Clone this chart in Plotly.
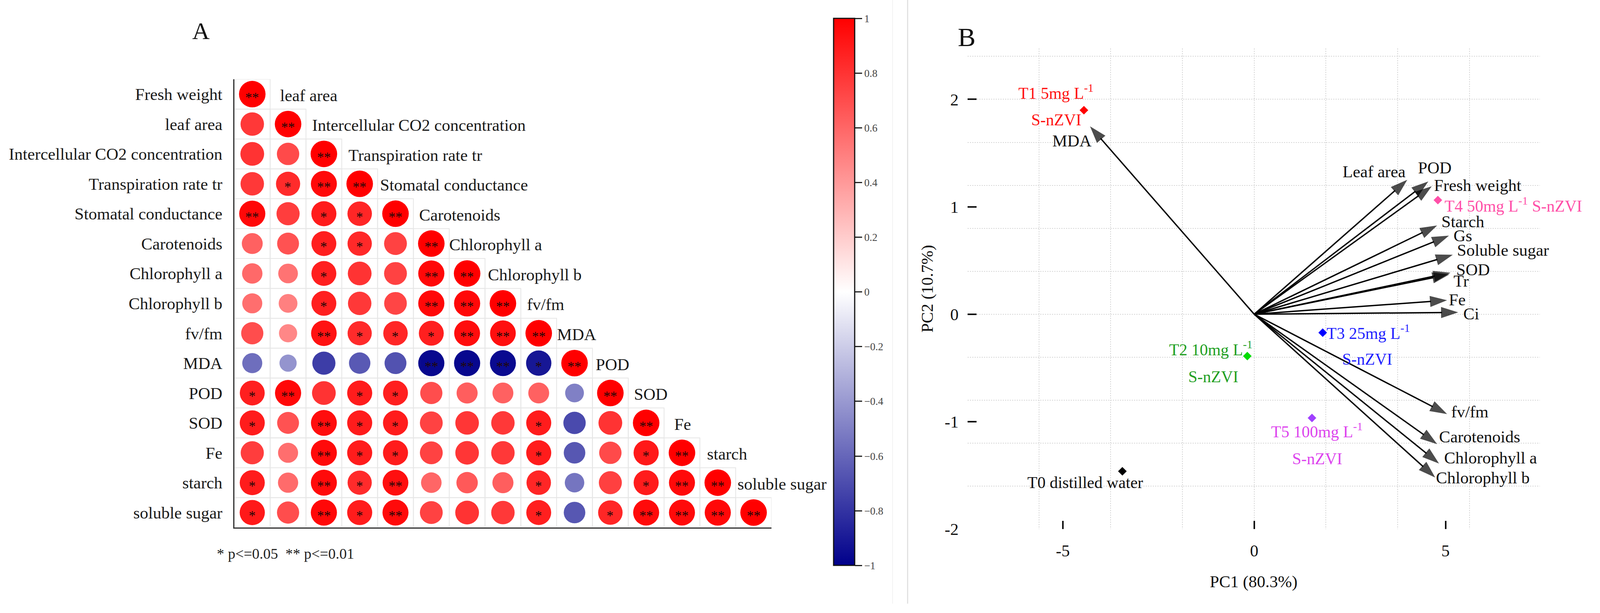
import numpy as np
import plotly.graph_objects as go

# ---------------- panel A data: correlation matrix (lower triangle) ----------------
variables = ["Fresh weight", "leaf area", "Intercellular CO2 concentration",
             "Transpiration rate tr", "Stomatal conductance", "Carotenoids",
             "Chlorophyll a", "Chlorophyll b", "fv/fm", "MDA", "POD", "SOD",
             "Fe", "starch", "soluble sugar"]

corr_rows = [
    [],
    [0.78],
    [0.80, 0.71],
    [0.78, 0.83, 0.96],
    [0.97, 0.76, 0.89, 0.85],
    [0.62, 0.68, 0.88, 0.84, 0.74],
    [0.59, 0.55, 0.88, 0.80, 0.74, 0.97],
    [0.57, 0.50, 0.88, 0.78, 0.73, 0.97, 0.97],
    [0.70, 0.47, 0.93, 0.83, 0.85, 0.88, 0.95, 0.94],
    [-0.57, -0.42, -0.76, -0.65, -0.68, -0.97, -0.97, -0.96, -0.91],
    [0.88, 0.97, 0.80, 0.89, 0.88, 0.70, 0.63, 0.62, 0.62, -0.50],
    [0.89, 0.68, 0.95, 0.89, 0.89, 0.74, 0.79, 0.78, 0.89, -0.71, 0.80],
    [0.76, 0.57, 0.96, 0.89, 0.89, 0.74, 0.79, 0.78, 0.89, -0.66, 0.71, 0.90],
    [0.89, 0.58, 0.96, 0.83, 0.94, 0.60, 0.65, 0.63, 0.85, -0.54, 0.75, 0.89, 0.96],
    [0.90, 0.70, 0.97, 0.89, 0.96, 0.74, 0.80, 0.78, 0.88, -0.66, 0.85, 0.96, 0.96, 0.97],
]

# critical r for n = 6 samples
r_p05 = 0.811
r_p01 = 0.917

colorbar_vals = [1, 0.8, 0.6, 0.4, 0.2, 0, -0.2, -0.4, -0.6, -0.8, -1]
colorbar_text = ["1", "0.8", "0.6", "0.4", "0.2", "0", "\u22120.2", "\u22120.4",
                 "\u22120.6", "\u22120.8", "\u22121"]

# ---------------- panel B data: PCA biplot ----------------
pca_vars = ["MDA", "Leaf area", "POD", "Fresh weight", "Starch", "Gs", "Soluble sugar",
            "SOD", "Tr", "Fe", "Ci", "fv/fm", "Carotenoids", "Chlorophyll a", "Chlorophyll b"]
load_pc1 = [-4.29, 4.00, 4.55, 4.64, 4.78, 5.09, 5.19, 5.13, 5.10, 5.04, 5.33, 5.04, 4.78, 4.83, 4.73]
load_pc2 = [1.749, 1.251, 1.236, 1.191, 0.826, 0.731, 0.553, 0.386, 0.371, 0.130, 0.017,
            -0.930, -1.210, -1.390, -1.520]

sample_lines = [["T0 distilled water"],
                ["T1 5mg L<sup>-1</sup>", "S-nZVI"],
                ["T2 10mg L<sup>-1</sup>", "S-nZVI"],
                ["T3 25mg L<sup>-1</sup>", "S-nZVI"],
                ["T4 50mg L<sup>-1</sup> S-nZVI"],
                ["T5 100mg L<sup>-1</sup>", "S-nZVI"]]
score_pc1 = [-3.445, -4.45, -0.18, 1.79, 4.80, 1.51]
score_pc2 = [-1.462, 1.899, -0.39, -0.172, 1.062, -0.966]

# ---------------- styles ----------------
# the browser window is only 4096 px wide, so the layout is laid out on a
# 4349-wide reference grid and squeezed horizontally
W_REF, W, H = 4349, 4096, 1570
SX = W / W_REF
FONT = "Liberation Serif"


def px(x):
    return x / W_REF


def py(y):
    return 1 - y / H


marker_colors = ["#000000", "#FF0000", "#00DD00", "#0000FF", "#FF4FA8", "#A040FF"]
text_colors = ["#111111", "#FF1010", "#22A022", "#1F1FFF", "#FF4FA8", "#DD44EE"]
# (dx px, dy px, xanchor) for every label line of each sample
sample_offsets = [[(-101, -29, "center")],
                  [(-76, 47, "center"), (-75, -25, "center")],
                  [(-99, 20, "center"), (-92, -53, "center")],
                  [(8, 2, "left"), (121, -68, "center")],
                  [(16, -12, "left")],
                  [(13, -32, "center"), (14, -105, "center")]]
var_offsets = [(6, -37, "right"), (-3, 21, "right"), (-30, 35, "left"), (4, 3, "left"),
               (10, 10, "left"), (10, 0, "left"), (9, 12, "left"), (14, 8, "left"),
               (9, -17, "left"), (3, 1, "left"), (12, -3, "left"), (9, 6, "left"),
               (3, 19, "left"), (12, 15, "left"), (0, -1, "left")]
diag_label_dx = [2, 25, 15, 16, 5, 14, -2, 6, 15, -1, 7, 13, 26, 17, 3]

colorscale = [[0, "#00008B"], [0.5, "#FFFFFF"], [1, "#FF0000"]]

fig = go.Figure()

# ---------------- panel A ----------------
n = len(variables)
cx, cy, cr = [], [], []
for i in range(n):
    for j in range(i + 1):
        r = 1.0 if i == j else corr_rows[i][j]
        cx.append(j)
        cy.append(i)
        cr.append(r)
        fig.add_shape(type="rect", xref="x", yref="y", x0=j - 0.5, x1=j + 0.5,
                      y0=i - 0.5, y1=i + 0.5, line=dict(color="#E6E6E6", width=2),
                      layer="below")

cr = np.array(cr)
fig.add_trace(go.Scatter(
    x=cx, y=cy, mode="markers", xaxis="x", yaxis="y",
    marker=dict(size=68 * np.sqrt(np.abs(cr)), color=cr, colorscale=colorscale,
                cmin=-1, cmax=1, line=dict(width=0), opacity=1,
                colorbar=dict(x=px(2266), xanchor="left", y=py(48), yanchor="top",
                              len=1401, lenmode="pixels", thickness=57 * SX,
                              thicknessmode="pixels", xpad=0, ypad=0,
                              outlinewidth=3, outlinecolor="#111111",
                              tickmode="array", tickvals=colorbar_vals,
                              ticktext=colorbar_text, ticks="outside", ticklen=18,
                              tickwidth=3, tickcolor="#222222",
                              tickfont=dict(family=FONT, size=27, color="#444444"))),
    showlegend=False, hoverinfo="skip"))

annotations = []
for x, y, r in zip(cx, cy, cr):
    stars = "**" if abs(r) >= r_p01 else ("*" if abs(r) >= r_p05 else "")
    if stars:
        annotations.append(dict(x=x, y=y, xref="x", yref="y", text=stars, showarrow=False,
                                xanchor="center", yshift=-9,
                                font=dict(family=FONT, size=35, color="#200808")))

for k, name in enumerate(variables):
    annotations.append(dict(x=k - 0.5, y=k - 1, xref="x", yref="y", text=name,
                            showarrow=False, xanchor="left", yanchor="middle",
                            xshift=diag_label_dx[k] * SX, yshift=-3,
                            font=dict(family=FONT, size=43, color="#1A1A1A")))

annotations.append(dict(x=px(546), y=py(80), xref="paper", yref="paper", text="A",
                        xanchor="center", yanchor="middle", showarrow=False,
                        font=dict(family=FONT, size=62, color="#111111")))
annotations.append(dict(x=px(776), y=py(1440), xref="paper", yref="paper",
                        text="* p<=0.05  ** p<=0.01", xanchor="center", yanchor="middle",
                        showarrow=False, font=dict(family=FONT, size=38, color="#222222")))

# ---------------- panel B ----------------
for k, name in enumerate(pca_vars):
    fig.add_trace(go.Scatter(
        x=[0, load_pc1[k]], y=[0, load_pc2[k]], xaxis="x2", yaxis="y2",
        mode="lines+markers", line=dict(color="black", width=3.5),
        marker=dict(symbol="arrow", size=[0, 46], angleref="previous", color="black",
                    line=dict(width=0)),
        showlegend=False, hoverinfo="skip"))
    dx, dy, anchor = var_offsets[k]
    annotations.append(dict(x=load_pc1[k], y=load_pc2[k], xref="x2", yref="y2", text=name,
                            showarrow=False, xanchor=anchor, yanchor="middle",
                            xshift=dx * SX, yshift=dy,
                            font=dict(family=FONT, size=43, color="#111111")))

fig.add_trace(go.Scatter(
    x=score_pc1, y=score_pc2, xaxis="x2", yaxis="y2", mode="markers",
    marker=dict(symbol="diamond", size=17, color=marker_colors, line=dict(width=0)),
    showlegend=False, hoverinfo="skip"))

for s, lines in enumerate(sample_lines):
    for line, (dx, dy, anchor) in zip(lines, sample_offsets[s]):
        annotations.append(dict(x=score_pc1[s], y=score_pc2[s], xref="x2", yref="y2",
                                text=line, showarrow=False, xanchor=anchor,
                                yanchor="middle", xshift=dx * SX, yshift=dy,
                                font=dict(family=FONT, size=42, color=text_colors[s])))

# overlay axes carry the tick marks and labels of panel B
fig.add_trace(go.Scatter(x=[None], y=[None], xaxis="x3", yaxis="y3",
                         showlegend=False, hoverinfo="skip"))

annotations.append(dict(x=px(2627), y=py(96), xref="paper", yref="paper", text="B",
                        xanchor="center", yanchor="middle", showarrow=False,
                        font=dict(family=FONT, size=68, color="#111111")))

# divider between panels
fig.add_shape(type="line", xref="paper", yref="paper", x0=px(2426), x1=px(2426), y0=0, y1=1,
              line=dict(color="#F2F2F2", width=2))
fig.add_shape(type="line", xref="paper", yref="paper", x0=px(2467), x1=px(2467), y0=0, y1=1,
              line=dict(color="#E2E2E2", width=3))

x2_range = [-7.49, 7.46]
y2_range = [-2.0, 2.474]
grid_style = dict(showgrid=True, gridcolor="#D6D6D6", gridwidth=2, griddash="dot",
                  showticklabels=False, ticks="", zeroline=False, showline=False)

fig.update_layout(
    width=W, height=H,
    margin=dict(l=0, r=0, t=0, b=0),
    paper_bgcolor="white", plot_bgcolor="rgba(0,0,0,0)",
    font=dict(family=FONT, color="#111111"),
    showlegend=False,
    annotations=annotations,
    xaxis=dict(domain=[px(637), px(2097)], range=[-0.5, 14.5], showgrid=False,
               zeroline=False, showticklabels=False, ticks="", showline=True,
               linecolor="#333333", linewidth=3, anchor="y"),
    yaxis=dict(domain=[py(1372), py(206)], range=[14.5, -0.5], showgrid=False,
               zeroline=False, tickmode="array", tickvals=list(range(n)),
               ticktext=variables, ticks="", ticklabelstandoff=19, showline=True,
               linecolor="#333333", linewidth=3, anchor="x",
               tickfont=dict(family=FONT, size=43, color="#1A1A1A")),
    xaxis2=dict(domain=[px(2630), px(4185)], range=x2_range, anchor="y2",
                tickmode="linear", tick0=0, dtick=1.875, **grid_style),
    yaxis2=dict(domain=[py(1376), py(126)], range=y2_range, anchor="x2",
                tickmode="linear", tick0=0, dtick=0.4, **grid_style),
    xaxis3=dict(overlaying="x2", anchor="y3", range=x2_range, showgrid=False,
                zeroline=False, showline=False, tickmode="array", tickvals=[-5, 0, 5],
                ticktext=["-5", "0", "5"], ticks="inside", ticklen=21, tickwidth=4,
                tickcolor="#111111", ticklabelstandoff=26,
                tickfont=dict(family=FONT, size=43, color="#111111"),
                title=dict(text="PC1 (80.3%)", standoff=40,
                           font=dict(family=FONT, size=43, color="#111111"))),
    yaxis3=dict(overlaying="y2", anchor="x3", side="left", range=y2_range, showgrid=False,
                zeroline=False, showline=False, tickmode="array",
                tickvals=[-2, -1, 0, 1, 2], ticktext=["-2", "-1", "0", "1", "2"],
                ticks="inside", ticklen=23, tickwidth=4, tickcolor="#111111",
                ticklabelstandoff=22,
                tickfont=dict(family=FONT, size=43, color="#111111"),
                title=dict(text="PC2 (10.7%)", standoff=16,
                           font=dict(family=FONT, size=43, color="#111111"))),
)

# drop the default page margin so the figure sits exactly in the window
fig.write_html("out.html", config={"displayModeBar": False},
               post_script="document.body.style.margin = '0';")
